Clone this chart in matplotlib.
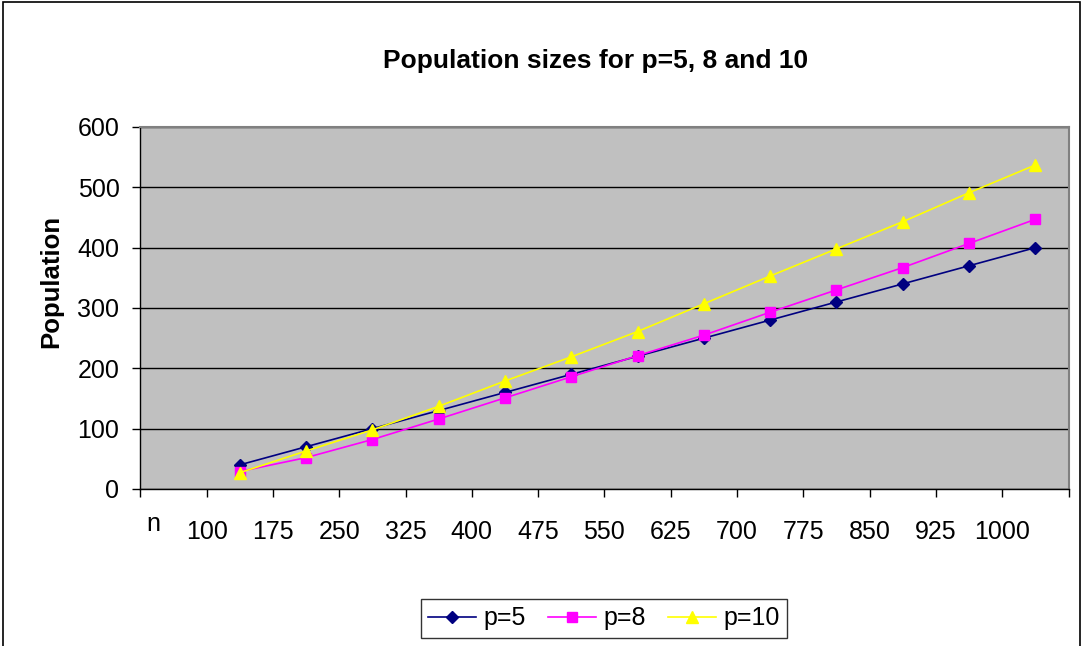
import numpy as np
import matplotlib
matplotlib.use("Agg")
import matplotlib.pyplot as plt
from matplotlib.patches import Rectangle
from matplotlib.transforms import ScaledTranslation

plt.rcParams["font.family"] = ["Liberation Sans", "DejaVu Sans"]

# Population per n for each p
n_values = [100, 175, 250, 325, 400, 475, 550, 625, 700, 775, 850, 925, 1000]
pop_p5 = [40, 70, 100, 130, 160, 190, 220, 250, 280, 310, 340, 370, 400]
pop_p8 = [29, 52, 82, 116, 151, 186, 221, 255, 293, 330, 367, 407, 447]
pop_p10 = [27, 63, 98, 137, 179, 219, 261, 307, 353, 398, 443, 491, 537]

series = [
    ("p=5", pop_p5, "#000080", "D", 6.5),
    ("p=8", pop_p8, "#FF00FF", "s", 7),
    ("p=10", pop_p10, "#FFFF00", "^", 9),
]

W, H = 1083, 646
fig = plt.figure(figsize=(W / 100, H / 100), dpi=100)
ax = fig.add_axes([140.3 / W, 1 - 489 / H, (1068.5 - 140.3) / W, (489 - 127) / H])
ax.set_facecolor("#C0C0C0")

# category slots: first slot holds the "n" label, data sits in slot centres after it
x = np.arange(len(n_values)) + 1.5
for label, vals, color, marker, ms in series:
    ax.plot(x, vals, color=color, lw=1.2, marker=marker, markersize=ms,
            markerfacecolor=color, markeredgecolor=color, label=label)

ax.set_xlim(0, len(n_values) + 1)
ax.set_ylim(0, 600)
ax.set_yticks(range(0, 601, 100))
ax.yaxis.grid(True, color="#000000", lw=1.0)
ax.set_axisbelow(True)

ax.set_xticks(np.arange(len(n_values) + 2))
ax.set_xticklabels(["n"] + [str(v) for v in n_values] + [""])
ax.tick_params(axis="x", direction="out", length=6, width=1, pad=16, labelsize=18)
ax.tick_params(axis="y", direction="out", length=6, width=1, pad=9, labelsize=18)

# the "n" label sits a little right of and above its tick
n_lab = ax.get_xticklabels()[0]
n_lab.set_transform(n_lab.get_transform() + ScaledTranslation(0.13, 0.08, fig.dpi_scale_trans))

for side in ("top", "right"):
    ax.spines[side].set_color("#808080")
    ax.spines[side].set_linewidth(1.5)
for side in ("left", "bottom"):
    ax.spines[side].set_color("#000000")
    ax.spines[side].set_linewidth(1.0)

fig.text(596 / W, 1 - 61 / H, "Population sizes for p=5, 8 and 10",
         ha="center", va="center", fontsize=19, fontweight="bold")
fig.text(51 / W, 1 - 281.5 / H, "Population", rotation=90,
         ha="center", va="center", fontsize=18.5, fontweight="bold")

leg = fig.legend(loc="center", bbox_to_anchor=(604 / W, 1 - 618.5 / H), ncol=3,
                 fontsize=18, frameon=True, fancybox=False, handlelength=1.9,
                 handletextpad=0.3, columnspacing=0.9, borderpad=0.3)
leg.get_frame().set_edgecolor("#000000")
leg.get_frame().set_linewidth(1.0)

# outer chart border
fig.patches.append(Rectangle((2.5 / W, -0.01), (1080 - 2.5) / W, 1.01 - 1.5 / H,
                             transform=fig.transFigure, fill=False,
                             edgecolor="#000000", lw=1.2))

fig.savefig("out.png", dpi=100)
